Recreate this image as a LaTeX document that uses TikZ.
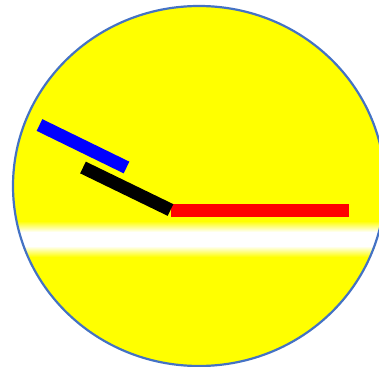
\documentclass[tikz,border=0pt]{standalone}
\usepackage{tikz}
\usetikzlibrary{calc}
\usepackage{xcolor}
\definecolor{rimblue}{RGB}{68,114,196}
\definecolor{discyellow}{RGB}{255,255,0}

\begin{document}
\begin{tikzpicture}[
      x=1pt, y=-1pt,
      rim/.style={draw=rimblue, line width=2.2pt},
      bar/.style={line width=13pt, line cap=butt}
    ]
    \useasboundingbox (0,0) rectangle (379,366);
    % disc
    \fill[discyellow] (199,186) ellipse [x radius=186, y radius=180];
    \begin{scope}
      \clip (199,186) ellipse [x radius=186, y radius=180];
      \shade[top color=discyellow, bottom color=white] (0,221) rectangle (400,232);
      \fill[white] (0,231.5) rectangle (400,246.5);
      \shade[top color=white, bottom color=discyellow] (0,246) rectangle (400,257);
    \end{scope}
    \draw[rim] (199,186) ellipse [x radius=186, y radius=180];
    % bars
    \coordinate (hub) at (170.5,210);
    \coordinate (redend) at (349,210);
    \coordinate (blackend) at (83,167.5);
    \coordinate (bluestart) at (39.5,125);
    \coordinate (blueend) at (126.5,167.5);
    \draw[bar, red] (hub) -- (redend);
    \draw[bar, black] (blackend) -- (hub);
    \draw[bar, blue] (bluestart) -- (blueend);
  \end{tikzpicture}
\end{document}
